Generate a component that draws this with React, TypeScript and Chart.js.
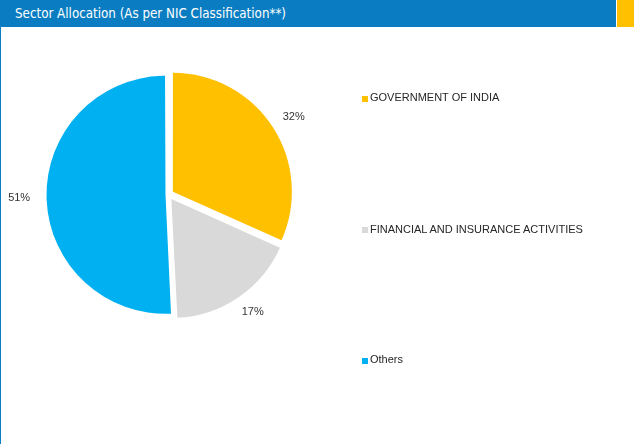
import React, { useEffect, useRef } from "react";
import { Chart, registerables } from "chart.js";

Chart.register(...registerables);

const TITLE = "Sector Allocation (As per NIC Classification**)";
const categories = ["GOVERNMENT OF INDIA", "FINANCIAL AND INSURANCE ACTIVITIES", "Others"];
const values = [31.7, 17.5, 50.8];
const pctLabels = ["32%", "17%", "51%"];
const colors = ["#FFC000", "#D9D9D9", "#00B0F0"];

const HEADER_BLUE = "#0A7DC2";
const FONT = '"Liberation Sans", Arial, sans-serif';
const RADIUS = 119;

// Chart.js enlarges exploded arcs by part of their offset; undo that so all slices share one radius.
const radiusFix = {
  id: "radiusFix",
  afterDatasetUpdate(chart: any, args: any) {
    const meta = chart.getDatasetMeta(args.index);
    meta.data.forEach((arc: any) => {
      const off = ((arc.options && arc.options.offset) || 0) / 4;
      const fix = 1 - Math.sin(Math.min(Math.PI, arc.circumference || 0));
      arc.outerRadius = Math.max(arc.outerRadius - off * fix, 0);
    });
  },
};

const labelPlugin = {
  id: "outLabels",
  afterDatasetsDraw(chart: any) {
    const meta = chart.getDatasetMeta(0);
    const ctx = chart.ctx;
    ctx.save();
    ctx.font = "11px " + FONT;
    ctx.fillStyle = "#333333";
    ctx.textAlign = "center";
    ctx.textBaseline = "middle";
    meta.data.forEach((arc: any, i: number) => {
      const p = arc.getProps(["x", "y", "startAngle", "endAngle", "circumference"], true);
      const mid = (p.startAngle + p.endAngle) / 2;
      const off = ((arc.options && arc.options.offset) || 0) / 4;
      const fix = 1 - Math.sin(Math.min(Math.PI, p.circumference || 0));
      const t = off * (1 + fix);
      const dx = Math.cos(mid);
      const dy = Math.sin(mid);
      const text = pctLabels[i];
      const w = ctx.measureText(text).width;
      const h = 8;
      const r = RADIUS + 13.5 + t;
      const x = p.x + dx * r + (dx * w) / 2;
      const y = p.y + dy * r + (dy * h) / 2;
      ctx.fillText(text, x, y);
    });
    ctx.restore();
  },
};

export default function App() {
  const ref = useRef<HTMLCanvasElement | null>(null);
  useEffect(() => {
    if (!ref.current) return;
    const chart = new Chart(ref.current, {
      type: "pie",
      data: {
        labels: categories,
        datasets: [
          {
            data: values,
            backgroundColor: colors,
            borderWidth: 0,
            offset: [21.3, 20.9, 11.6],
          } as any,
        ],
      },
      options: {
        responsive: false,
        animation: false,
        radius: RADIUS,
        layout: { padding: { left: 30, right: 327.2, top: 56, bottom: 110.6 } },
        plugins: { legend: { display: false }, tooltip: { enabled: false } },
      } as any,
      plugins: [radiusFix, labelPlugin],
    });
    return () => chart.destroy();
  }, []);

  const legendY = [97.5, 229.3, 359.5];

  return (
    <div style={{ position: "absolute", left: 0, top: 0, width: 634, height: 444, background: "#fff", overflow: "hidden" }}>
      <div style={{ position: "absolute", left: 0, top: 0, width: 616, height: 27, background: HEADER_BLUE }} />
      <div style={{ position: "absolute", left: 617, top: 0, width: 17, height: 27, background: "#FFC000" }} />
      <div
        style={{
          position: "absolute",
          left: 15,
          top: 0,
          height: 27,
          lineHeight: "27px",
          color: "#fff",
          fontFamily: '"DejaVu Sans Condensed", "DejaVu Sans", sans-serif',
          fontSize: 13.25,
          whiteSpace: "nowrap",
        }}
      >
        {TITLE}
      </div>
      <div style={{ position: "absolute", left: 0, top: 27, width: 1, height: 417, background: HEADER_BLUE }} />
      <canvas ref={ref} width={634} height={444} style={{ position: "absolute", left: 0, top: 0, width: 634, height: 444 }} />
      {categories.map((c, i) => (
        <React.Fragment key={c}>
          <div
            style={{
              position: "absolute",
              left: 362,
              top: legendY[i] - 2,
              width: 6,
              height: 6,
              background: colors[i],
            }}
          />
          <div
            style={{
              position: "absolute",
              left: 370,
              top: legendY[i] - 6.4,
              lineHeight: "13px",
              fontSize: 11,
              fontFamily: FONT,
              color: "#262626",
              whiteSpace: "nowrap",
            }}
          >
            {c}
          </div>
        </React.Fragment>
      ))}
    </div>
  );
}
